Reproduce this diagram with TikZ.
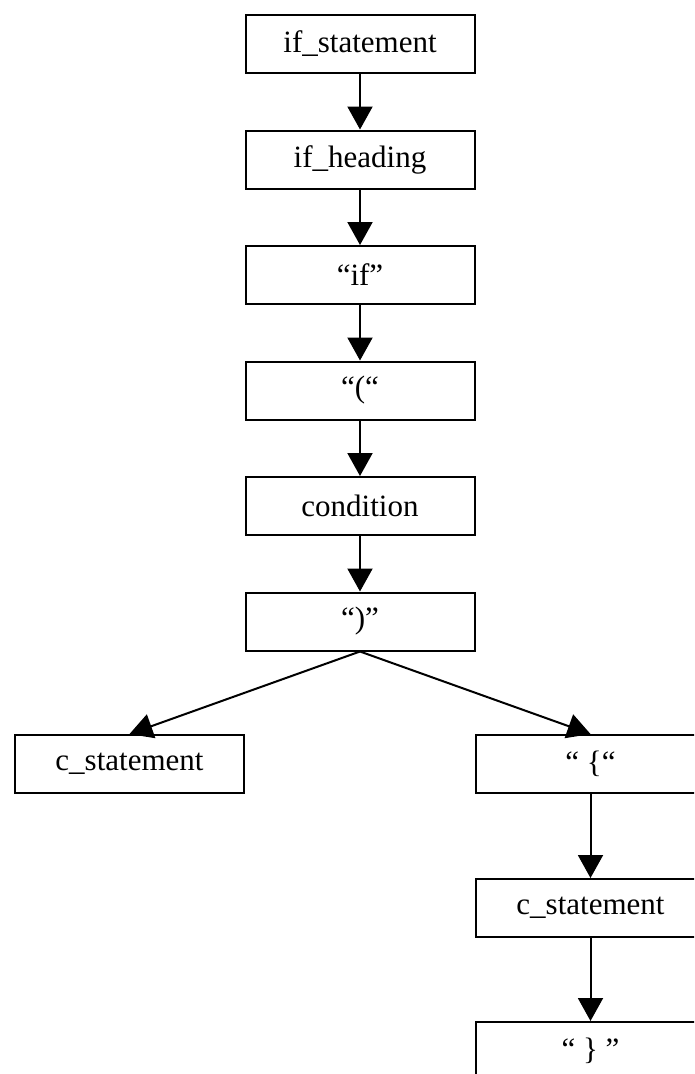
\documentclass[tikz,border=0pt]{standalone}
\usepackage{fontspec}
\setmainfont{Liberation Serif}
\usetikzlibrary{arrows.meta}
\begin{document}
\begin{tikzpicture}[x=1pt,y=-1pt,
  gbox/.style={draw, line width=2pt, minimum width=229pt, minimum height=58pt,
    inner sep=0pt, font=\fontsize{31}{31}\selectfont},
  garrow/.style={line width=2pt, -{Triangle[width=25pt,length=23pt]}}]
  \useasboundingbox (0,0) rectangle (694,1074);
  \clip (0,0) rectangle (694,1074);
  \fill[white] (0,0) rectangle (694,1074);
  % main chain
  \node[gbox] (stmt) at (360,44) {if\_statement};
  \node[gbox] (head) at (360,159.5) {if\_heading};
  \node[gbox] (kif) at (360,275) {“if”};
  \node[gbox] (lpar) at (360,390.5) {“(“};
  \node[gbox] (cond) at (360,506) {condition};
  \node[gbox] (rpar) at (360,621.5) {“)”};
  % branches
  \node[gbox] (single) at (129.5,764) {c\_statement};
  \node[gbox] (lbrace) at (590.5,764) {“ \{“};
  \node[gbox] (body) at (590.5,908) {c\_statement};
  \node[gbox] (rbrace) at (590.5,1051) {“ \} ”};
  % connectors
  \draw[garrow] (stmt) -- (head);
  \draw[garrow] (head) -- (kif);
  \draw[garrow] (kif) -- (lpar);
  \draw[garrow] (lpar) -- (cond);
  \draw[garrow] (cond) -- (rpar);
  \draw[garrow] (rpar.south) -- (single.north);
  \draw[garrow] (rpar.south) -- (lbrace.north);
  \draw[garrow] (lbrace) -- (body);
  \draw[garrow] (body) -- (rbrace);
\end{tikzpicture}
\end{document}
